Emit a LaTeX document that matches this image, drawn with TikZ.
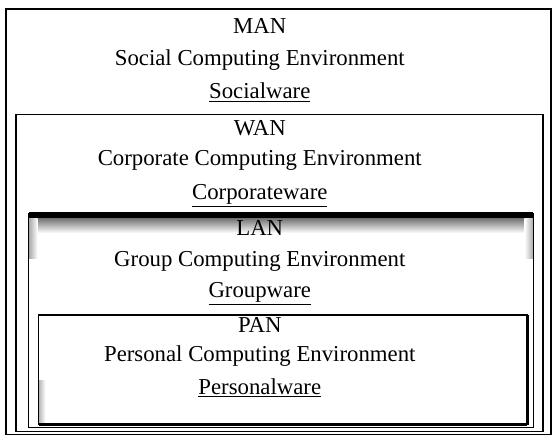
\documentclass[tikz,border=0pt]{standalone}
\usepackage{fontspec}
\setmainfont{Liberation Serif}

\begin{document}
\begin{tikzpicture}[x=0.75pt,y=-0.75pt,
  netbox/.style={line width=1.3pt},
  lbl/.style={font=\fontsize{17.3}{19}\selectfont,inner sep=0pt,anchor=base}]
\path (0,0) rectangle (552,442);
\draw[netbox] (6,9) rectangle (558,440);
\draw[netbox] (16,116) rectangle (550,437);
\fill[black] (29,215) rectangle (540,221);
\shade[top color=black!55,bottom color=white] (29,221) rectangle (540,236);
\shade[left color=black!35,right color=white] (29,221) rectangle (38,262);
\shade[right color=black!35,left color=white] (531,221) rectangle (540,262);
\draw[line width=1pt] (29,216) rectangle (540,433);
\shade[left color=black!30,right color=white] (39,385) rectangle (46,430);
\draw[line width=1pt] (39,319) rectangle (534,430);
\draw[line width=2pt] (534,319) -- (534,430);
\draw[line width=2pt] (39,430) -- (534,430);
\node[lbl] (man) at (263,34) {MAN};
\node[lbl] (manenv) at (263,66) {Social Computing Environment};
\node[lbl] (manware) at (263,100) {\underline{Socialware}};
\node[lbl] (wan) at (263,137) {WAN};
\node[lbl] (wanenv) at (263,168) {Corporate Computing Environment};
\node[lbl] (wanware) at (263,202) {\underline{Corporateware}};
\node[lbl] (lan) at (263,238) {LAN};
\node[lbl] (lanenv) at (263,270) {Group Computing Environment};
\node[lbl] (lanware) at (263,301) {\underline{Groupware}};
\node[lbl] (pan) at (263,337) {PAN};
\node[lbl] (panenv) at (263,366) {Personal Computing Environment};
\node[lbl] (panware) at (263,399) {\underline{Personalware}};
\end{tikzpicture}
\end{document}
